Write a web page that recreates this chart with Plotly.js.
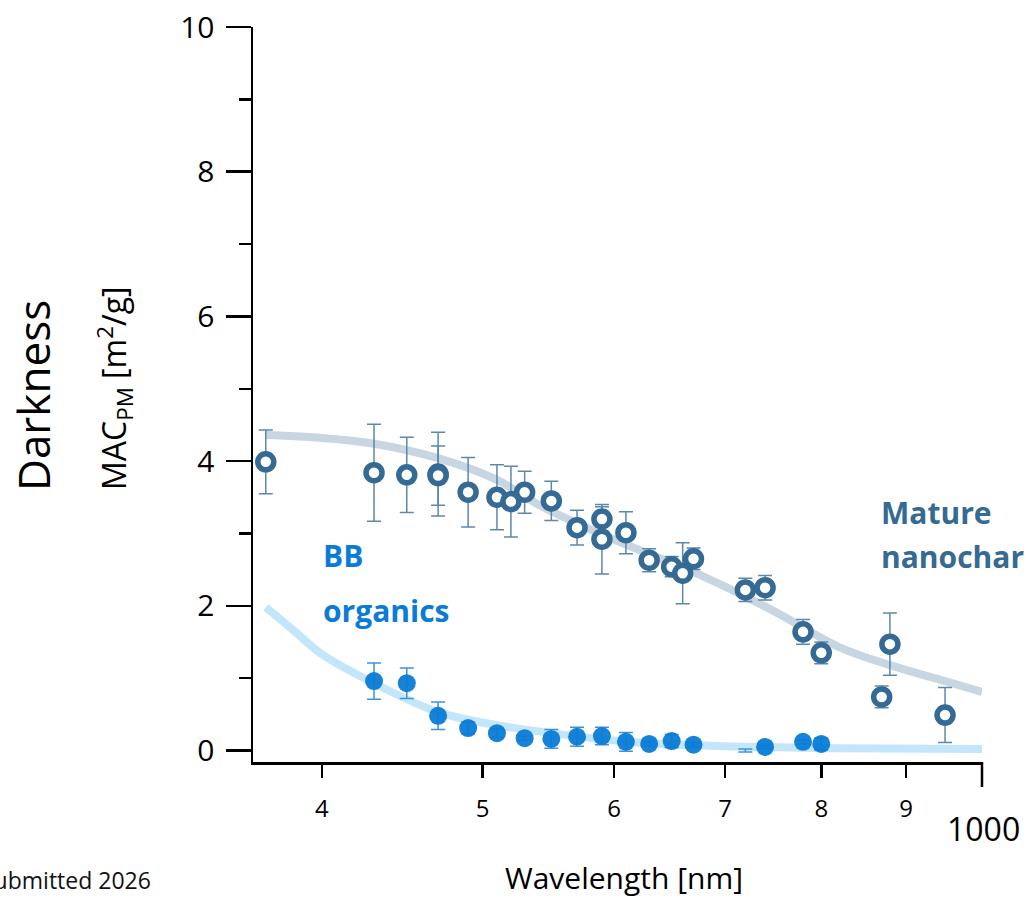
<!DOCTYPE html>
<html>
<head>
<meta charset="utf-8">
<script src="https://cdn.plot.ly/plotly-3.0.1.min.js"></script>
<style>
html,body{margin:0;padding:0;background:#fff;}
#chart{width:1025px;height:899px;}
</style>
</head>
<body>
<div id="chart"></div>
<script>
// ---- data (wavelength in nm, MAC in m2/g) ----
const matureWl  = [370, 430, 450, 470, 470, 490, 510, 520, 530, 550, 570, 590, 590, 610, 630, 650, 660, 670, 720, 740, 780, 800, 870, 880, 950];
const matureMac = [3.99, 3.84, 3.81, 3.82, 3.80, 3.57, 3.50, 3.44, 3.57, 3.45, 3.08, 3.20, 2.92, 3.01, 2.63, 2.54, 2.45, 2.65, 2.22, 2.25, 1.64, 1.35, 0.74, 1.47, 0.49];
const matureErr = [0.44, 0.67, 0.52, 0.58, 0.41, 0.48, 0.45, 0.49, 0.29, 0.27, 0.24, 0.17, 0.48, 0.29, 0.16, 0.14, 0.42, 0.15, 0.16, 0.17, 0.17, 0.15, 0.15, 0.43, 0.38];

const bbWl  = [430, 450, 470, 490, 510, 530, 550, 570, 590, 610, 630, 650, 670, 740, 780, 800];
const bbMac = [0.96, 0.93, 0.48, 0.31, 0.24, 0.17, 0.16, 0.19, 0.20, 0.12, 0.09, 0.13, 0.08, 0.05, 0.12, 0.09];
const bbErr = [0.25, 0.21, 0.19, 0.08, 0.06, 0.03, 0.13, 0.13, 0.12, 0.13, 0.03, 0.09, 0.03, 0.02, 0.03, 0.08];

// BB point whose marker is not visible (error bar only)
const bbHiddenWl  = [720];
const bbHiddenMac = [0.0];
const bbHiddenErr = [0.02];

const matureFitWl  = [370, 400, 430, 470, 510, 540, 580, 620, 680, 750, 820, 880, 940, 1000];
const matureFitMac = [4.36, 4.32, 4.24, 4.04, 3.74, 3.40, 3.06, 2.78, 2.40, 1.92, 1.43, 1.18, 0.99, 0.81];

const bbFitWl  = [370, 385, 400, 430, 470, 510, 550, 620, 700, 820, 1000];
const bbFitMac = [1.98, 1.65, 1.33, 0.93, 0.53, 0.35, 0.24, 0.11, 0.06, 0.03, 0.02];

const xTickVals = [400, 500, 600, 700, 800, 900];
const xTickText = ['4', '5', '6', '7', '8', '9'];
const xEndLabel = '1000';
const yTickVals = [0, 2, 4, 6, 8, 10];

// ---- layout geometry ----
const W = 1025, H = 899;
const M = {l: 253, r: 43, t: 27, b: 137};
const PW = W - M.l - M.r, PH = H - M.t - M.b;
const px2x = p => (p - M.l) / PW;
const px2y = p => (H - M.b - p) / PH;

const FONT = '"Open Sans", "Noto Sans", sans-serif';
const matureColor = '#346a93';
const matureErrColor = '#5c88ad';
const bbColor = '#0a7bd6';
const bbErrColor = '#3b93dc';

const traces = [
  {x: matureFitWl, y: matureFitMac, mode: 'lines', line: {color: '#c8d6e1', width: 8, shape: 'spline', smoothing: 1}, hoverinfo: 'skip'},
  {x: bbFitWl, y: bbFitMac, mode: 'lines', line: {color: '#c4e6fb', width: 8, shape: 'spline', smoothing: 1}, hoverinfo: 'skip'},
  {x: bbHiddenWl, y: bbHiddenMac, mode: 'markers', marker: {size: 1, opacity: 0},
   error_y: {type: 'data', array: bbHiddenErr, visible: true, color: bbErrColor, thickness: 1.5, width: 7}},
  {x: bbWl, y: bbMac, mode: 'markers', marker: {size: 18, color: bbColor, opacity: 0.95},
   error_y: {type: 'data', array: bbErr, visible: true, color: bbErrColor, thickness: 1.5, width: 7}},
  {x: matureWl, y: matureMac, mode: 'markers', marker: {size: 16, color: '#ffffff', line: {color: matureColor, width: 5.5}},
   error_y: {type: 'data', array: matureErr, visible: true, color: matureErrColor, thickness: 1.5, width: 7}}
];

const layout = {
  width: W, height: H,
  margin: M,
  paper_bgcolor: '#ffffff', plot_bgcolor: '#ffffff',
  showlegend: false,
  hovermode: false,
  font: {family: FONT, color: '#000'},
  xaxis: {
    type: 'log',
    range: [Math.log10(363.5), 3],
    showgrid: false, zeroline: false,
    showline: true, linecolor: '#000', linewidth: 2.5,
    ticks: 'outside', ticklen: 13, tickwidth: 2.5, tickcolor: '#000',
    tickvals: xTickVals, ticktext: xTickText,
    tickfont: {size: 24, family: FONT, color: '#000'},
    ticklabelstandoff: 11
  },
  yaxis: {
    range: [-0.159, 10],
    showgrid: false, zeroline: false,
    showline: true, linecolor: '#000', linewidth: 2.5,
    ticks: 'outside', ticklen: 25, tickwidth: 2.5, tickcolor: '#000',
    tickvals: yTickVals,
    tickfont: {size: 30, family: FONT, color: '#000'},
    ticklabelstandoff: 5,
    minor: {dtick: 1, ticks: 'outside', ticklen: 12, tickwidth: 2.5, tickcolor: '#000', showgrid: false}
  },
  shapes: [
    {type: 'line', xref: 'paper', yref: 'paper', x0: 1, x1: 1, y0: 0, y1: -25 / PH,
     line: {color: '#000', width: 2.5}}
  ],
  annotations: [
    {text: xEndLabel, xref: 'paper', yref: 'paper', x: px2x(983), y: px2y(828), xanchor: 'center', yanchor: 'middle',
     showarrow: false, font: {size: 32, family: FONT, color: '#000'}},
    {text: 'Wavelength [nm]', xref: 'paper', yref: 'paper', x: px2x(624), y: px2y(877), xanchor: 'center', yanchor: 'middle',
     showarrow: false, font: {size: 30, family: FONT, color: '#000'}},
    {text: 'Darkness', xref: 'paper', yref: 'paper', x: px2x(33), y: px2y(396), xanchor: 'center', yanchor: 'middle',
     textangle: -90, showarrow: false, font: {size: 44, family: FONT, color: '#000'}},
    {text: 'MAC<sub>PM</sub> [m<sup>2</sup>/g]', xref: 'paper', yref: 'paper', x: px2x(114), y: px2y(388), xanchor: 'center', yanchor: 'middle',
     textangle: -90, showarrow: false, font: {size: 32, family: FONT, color: '#000'}},
    {text: '<b>BB</b>', xref: 'paper', yref: 'paper', x: px2x(321), y: px2y(555), xanchor: 'left', yanchor: 'middle',
     showarrow: false, font: {size: 30, family: FONT, color: bbColor}},
    {text: '<b>organics</b>', xref: 'paper', yref: 'paper', x: px2x(321), y: px2y(610), xanchor: 'left', yanchor: 'middle',
     showarrow: false, font: {size: 30, family: FONT, color: bbColor}},
    {text: '<b>Mature</b>', xref: 'paper', yref: 'paper', x: px2x(879), y: px2y(512), xanchor: 'left', yanchor: 'middle',
     showarrow: false, font: {size: 30, family: FONT, color: matureColor}},
    {text: '<b>nanochar</b>', xref: 'paper', yref: 'paper', x: px2x(879), y: px2y(556), xanchor: 'left', yanchor: 'middle',
     showarrow: false, font: {size: 30, family: FONT, color: matureColor}},
    {text: 'Submitted 2026', xref: 'paper', yref: 'paper', x: px2x(153), y: px2y(880), xanchor: 'right', yanchor: 'middle',
     showarrow: false, font: {size: 23, family: FONT, color: '#111'}}
  ]
};

Plotly.newPlot('chart', traces, layout, {displayModeBar: false, staticPlot: true});
</script>
</body>
</html>
